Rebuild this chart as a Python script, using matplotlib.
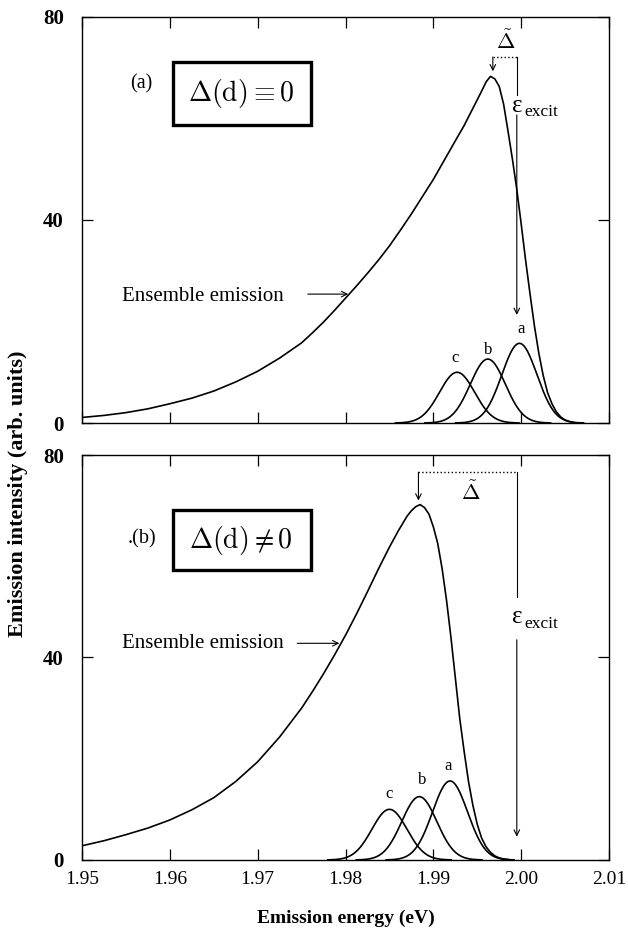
import numpy as np
import matplotlib
matplotlib.use("Agg")
import matplotlib.pyplot as plt
from matplotlib.patches import Rectangle

plt.rcParams['font.family'] = ['Liberation Serif', 'DejaVu Serif']
plt.rcParams['mathtext.fontset'] = 'cm'

# ---------------- data ----------------
x_ticks = [1.95, 1.96, 1.97, 1.98, 1.99, 2.00, 2.01]
x_tick_labels = ["1.95", "1.96", "1.97", "1.98", "1.99", "2.00", "2.01"]
y_ticks = [0, 40, 80]

# panel (a) ensemble emission
ens_a_E = [1.95000, 1.95250, 1.95500, 1.95750, 1.96000, 1.96250, 1.96500, 1.96750,
           1.97000, 1.97250, 1.97500, 1.97625, 1.97750, 1.97875, 1.98000, 1.98125,
           1.98250, 1.98375, 1.98500, 1.98625, 1.98750, 1.98875, 1.99000, 1.99125,
           1.99250, 1.99350, 1.99450, 1.99550, 1.99600, 1.99650, 1.99700, 1.99750,
           1.99800, 1.99850, 1.99900, 1.99950, 2.00000, 2.00050, 2.00100, 2.00150,
           2.00200, 2.00250, 2.00300, 2.00350, 2.00400, 2.00450, 2.00500, 2.00550,
           2.00600]
ens_a_I = [1.1, 1.5, 2.05, 2.8, 3.8, 4.9, 6.3, 8.1,
           10.2, 12.8, 15.8, 17.8, 19.9, 22.2, 24.6, 27.0,
           29.5, 32.1, 34.9, 38.0, 41.2, 44.6, 48.0, 51.8,
           55.6, 58.6, 62.0, 65.4, 67.2, 68.3, 67.8, 66.3,
           62.8, 57.5, 52.0, 46.0, 39.2, 32.1, 25.5, 19.2,
           13.8, 9.4, 6.0, 3.8, 2.2, 1.2, 0.6, 0.3,
           0.1]

# panel (b) ensemble emission
ens_b_E = [1.95000, 1.95250, 1.95500, 1.95750, 1.96000, 1.96250, 1.96500, 1.96750,
           1.97000, 1.97250, 1.97500, 1.97625, 1.97750, 1.97875, 1.98000, 1.98125,
           1.98250, 1.98375, 1.98500, 1.98600, 1.98700, 1.98750, 1.98800, 1.98850,
           1.98900, 1.98950, 1.99000, 1.99050, 1.99100, 1.99150, 1.99200, 1.99250,
           1.99300, 1.99350, 1.99400, 1.99450, 1.99500, 1.99550, 1.99600, 1.99650,
           1.99700, 1.99750, 1.99800, 1.99850]
ens_b_I = [2.8, 3.8, 5.0, 6.3, 7.9, 9.9, 12.3, 15.5,
           19.4, 24.3, 30.0, 33.3, 36.8, 40.5, 44.4, 48.6,
           53.0, 57.5, 61.8, 65.0, 67.9, 69.0, 69.8, 70.2,
           69.6, 68.3, 65.8, 62.5, 57.5, 51.3, 44.0, 36.0,
           28.0, 21.5, 15.5, 10.8, 7.0, 4.3, 2.6, 1.5,
           0.8, 0.4, 0.2, 0.1]

# single-dot emission lines a, b, c (centre eV, height, width eV)
dot_labels = ["a", "b", "c"]
dots_a_center = [1.9998, 1.9962, 1.9927]
dots_b_center = [1.9919, 1.9884, 1.9850]
dots_a_height = [15.7, 12.6, 10.0]
dots_b_height = [15.6, 12.5, 10.0]
dot_width = 0.0020

excit_E = 1.9995

# ---------------- figure ----------------
fig = plt.figure(figsize=(6.28, 9.32), dpi=100)
ax1 = fig.add_axes([0.1306, 0.5461, 0.8392, 0.4357])
ax2 = fig.add_axes([0.1306, 0.0773, 0.8392, 0.4345])

lw = 1.2
for ax in (ax1, ax2):
    ax.set_xlim(1.95, 2.01)
    ax.set_ylim(0, 80)
    ax.set_xticks(x_ticks)
    ax.set_yticks(y_ticks)
    ax.tick_params(direction='in', length=8, width=0.9, top=True, right=True)
    ax.tick_params(axis='x', labelsize=14, pad=8)
    ax.tick_params(axis='y', labelsize=15, pad=13)
    for t in ax.get_yticklabels():
        t.set_fontweight('bold')
    for s in ax.spines.values():
        s.set_linewidth(1.0)

ax1.set_xticklabels([])
ax2.set_xticklabels(x_tick_labels)

Egrid = np.linspace(1.95, 2.01, 1200)


def draw_panel(ax, ensE, ensI, centers, heights):
    ax.plot(ensE, ensI, color='black', lw=lw, solid_joinstyle='round')
    for c, h in zip(centers, heights):
        g = h * np.exp(-0.5 * ((Egrid - c) / dot_width) ** 2)
        m = g > 0.02
        ax.plot(Egrid[m], g[m], color='black', lw=lw)


draw_panel(ax1, ens_a_E, ens_a_I, dots_a_center, dots_a_height)
draw_panel(ax2, ens_b_E, ens_b_I, dots_b_center, dots_b_height)

# letters a b c
for lab, (E, y) in zip(dot_labels, [(1.99997, 18.5), (1.99628, 14.4), (1.99250, 12.9)]):
    ax1.text(E, y, lab, ha='center', va='center', fontsize=12)
for lab, (E, y) in zip(dot_labels, [(1.99170, 18.5), (1.98872, 15.8), (1.98500, 13.0)]):
    ax2.text(E, y, lab, ha='center', va='center', fontsize=12)

# panel labels and boxes
ax1.text(1.9568, 66.9, "(a)", ha='center', va='center', fontsize=14.5)
ax1.add_patch(Rectangle((1.9604, 58.7), 1.9761 - 1.9604, 71.2 - 58.7,
                        fill=False, lw=2.4, ec='black'))
ax1.text(1.96810, 65.0, r"$\Delta(\mathrm{d})\equiv 0$", ha='center', va='center',
         fontsize=20)

ax2.text(1.9568, 63.5, ".(b)", ha='center', va='center', fontsize=14.5)
ax2.add_patch(Rectangle((1.9604, 57.2), 1.9761 - 1.9604, 69.2 - 57.2,
                        fill=False, lw=2.4, ec='black'))
ax2.text(1.96810, 63.2, r"$\Delta(\mathrm{d})\neq 0$", ha='center', va='center',
         fontsize=20)

# ensemble emission labels
ax1.text(1.95456, 24.9, "Ensemble emission", ha='left', va='center', fontsize=15)
ax1.annotate("", xy=(1.9803, 25.4), xytext=(1.9757, 25.4),
             arrowprops=dict(arrowstyle='->', lw=0.8, color='black',
                             shrinkA=0, shrinkB=0))
ax2.text(1.95456, 42.8, "Ensemble emission", ha='left', va='center', fontsize=15)
ax2.annotate("", xy=(1.9793, 42.8), xytext=(1.9745, 42.8),
             arrowprops=dict(arrowstyle='->', lw=0.8, color='black',
                             shrinkA=0, shrinkB=0))

# Delta tilde & excitation (a)
ax1.plot([1.99677, excit_E], [72.1, 72.1], ls=':', color='black', lw=1.0)
ax1.annotate("", xy=(1.99677, 69.3), xytext=(1.99677, 72.1),
             arrowprops=dict(arrowstyle='->', lw=0.8, color='black',
                             shrinkA=0, shrinkB=0))
ax1.plot([excit_E, excit_E], [72.1, 64.6], color='black', lw=0.8)
ax1.annotate("", xy=(excit_E, 21.3), xytext=(excit_E, 60.7),
             arrowprops=dict(arrowstyle='->', lw=0.8, color='black',
                             shrinkA=0, shrinkB=0))
ax1.text(1.9982, 75.0, r"$\tilde{\Delta}$", ha='center', va='center', fontsize=16)
ax1.text(excit_E, 62.4, "ε", ha='center', va='center', fontsize=18)
ax1.text(excit_E + 0.0009, 61.2, "excit", ha='left', va='center', fontsize=12.5)

# Delta tilde & excitation (b)
ax2.plot([1.98830, excit_E], [76.6, 76.6], ls=':', color='black', lw=1.0)
ax2.annotate("", xy=(1.98830, 71.0), xytext=(1.98830, 76.6),
             arrowprops=dict(arrowstyle='->', lw=0.8, color='black',
                             shrinkA=0, shrinkB=0))
ax2.plot([excit_E, excit_E], [76.6, 51.9], color='black', lw=0.8)
ax2.annotate("", xy=(excit_E, 4.6), xytext=(excit_E, 43.5),
             arrowprops=dict(arrowstyle='->', lw=0.8, color='black',
                             shrinkA=0, shrinkB=0))
ax2.text(1.99428, 72.4, r"$\tilde{\Delta}$", ha='center', va='center', fontsize=16)
ax2.text(excit_E, 47.9, "ε", ha='center', va='center', fontsize=18)
ax2.text(excit_E + 0.0009, 46.7, "excit", ha='left', va='center', fontsize=12.5)

# axis labels
fig.text(0.029, 0.47, "Emission intensity (arb. units)", rotation=90,
         ha='center', va='center', fontsize=16, fontweight='bold')
fig.text(0.55, 0.015, "Emission energy (eV)", ha='center', va='center',
         fontsize=14, fontweight='bold')

fig.savefig("out.png", dpi=100)
